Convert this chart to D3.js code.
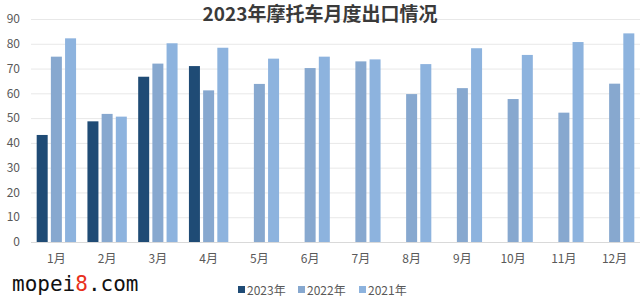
<!DOCTYPE html>
<html>
<head>
<meta charset="utf-8">
<script src="https://cdn.jsdelivr.net/npm/d3@7"></script>
<style>
  html, body { margin: 0; padding: 0; background: #fff; }
  svg { display: block; font-family: "Noto Sans CJK SC", "Noto Sans", sans-serif; }
</style>
</head>
<body>
<div id="chart"></div>
<script>
// ===========================
// 2023 motorcycle monthly exports — grouped bars, 3 years per month
// ===========================

const months = ['1月', '2月', '3月', '4月', '5月', '6月', '7月', '8月', '9月', '10月', '11月', '12月'];
const seriesNames = ['2023年', '2022年', '2021年'];
const values2023 = [43.2, 48.7, 66.7, 71.0, null, null, null, null, null, null, null, null];
const values2022 = [74.8, 51.7, 72.0, 61.2, 63.8, 70.2, 72.9, 59.7, 62.1, 57.7, 52.2, 63.9];
const values2021 = [82.2, 50.6, 80.2, 78.4, 74.0, 74.8, 73.7, 71.8, 78.2, 75.5, 80.7, 84.2];
const yTicks = [0, 10, 20, 30, 40, 50, 60, 70, 80, 90];

const colors = ['#1f4b75', '#87a8cf', '#8db3de'];
const width = 640, height = 300;
const plot = { left: 31, right: 640, top: 19, bottom: 242 };

const svg = d3.select('#chart').append('svg')
    .attr('width', width)
    .attr('height', height);

// ── Scales ────────────────────────────────────────────────────────────────
const x0 = d3.scaleBand()
    .domain(months)
    .range([plot.left, plot.right])
    .paddingInner(0.224)
    .paddingOuter(0.112);

const x1 = d3.scaleBand()
    .domain(seriesNames)
    .range([0, x0.bandwidth()])
    .paddingInner(0.225);

const y = d3.scaleLinear()
    .domain([0, 90])
    .range([plot.bottom, plot.top]);

// ── Grid ──────────────────────────────────────────────────────────────────
svg.append('g')
    .selectAll('line')
    .data(yTicks)
    .join('line')
    .attr('x1', plot.left)
    .attr('x2', plot.right)
    .attr('y1', d => y(d) + 0.5)
    .attr('y2', d => y(d) + 0.5)
    .attr('stroke', d => d === 0 ? '#d9d9d9' : '#e8e8e8')
    .attr('stroke-width', 1);

// y labels
svg.append('g')
    .selectAll('text')
    .data(yTicks)
    .join('text')
    .attr('x', 20)
    .attr('y', d => y(d))
    .attr('dy', '0.35em')
    .attr('text-anchor', 'end')
    .style('font-size', '12px')
    .style('fill', '#595959')
    .text(d => d);

// x labels
svg.append('g')
    .selectAll('text')
    .data(months)
    .join('text')
    .attr('x', d => x0(d) + x0.bandwidth() / 2)
    .attr('y', 263)
    .attr('text-anchor', 'middle')
    .style('font-size', '12px')
    .style('fill', '#595959')
    .text(d => d);

// ── Bars ──────────────────────────────────────────────────────────────────
const allSeries = [values2023, values2022, values2021];
const barData = months.map((m, i) => ({
    month: m,
    bars: seriesNames.map((s, k) => ({ series: s, k, value: allSeries[k][i] }))
}));

svg.selectAll('.month')
    .data(barData)
    .join('g')
    .attr('class', 'month')
    .attr('transform', d => `translate(${x0(d.month)},0)`)
    .selectAll('rect')
    .data(d => d.bars.filter(b => b.value != null))
    .join('rect')
    .attr('x', d => x1(d.series))
    .attr('y', d => y(d.value))
    .attr('width', x1.bandwidth())
    .attr('height', d => y(0) - y(d.value))
    .attr('fill', d => colors[d.k]);

// ── Title ─────────────────────────────────────────────────────────────────
svg.append('text')
    .attr('x', 320)
    .attr('y', 21)
    .attr('text-anchor', 'middle')
    .style('font-size', '19px')
    .style('font-weight', '700')
    .style('fill', '#3a3a3a')
    .text('2023年摩托车月度出口情况');

// ── Legend ────────────────────────────────────────────────────────────────
const legendX = [238, 298, 359];
const legend = svg.append('g');
seriesNames.forEach((s, k) => {
    legend.append('rect')
        .attr('x', legendX[k])
        .attr('y', 286)
        .attr('width', 7)
        .attr('height', 7)
        .attr('fill', colors[k]);
    legend.append('text')
        .attr('x', legendX[k] + 9)
        .attr('y', 295)
        .style('font-size', '12px')
        .style('fill', '#595959')
        .text(s);
});

// ── Watermark ─────────────────────────────────────────────────────────────
const wm = svg.append('text')
    .attr('x', 12)
    .attr('y', 291)
    .style('font-family', '"DejaVu Sans Mono", monospace')
    .style('font-size', '21px')
    .style('fill', '#111');
wm.append('tspan').text('mopei');
wm.append('tspan').style('fill', '#e8301c').text('8');
wm.append('tspan').text('.com');
</script>
</body>
</html>
